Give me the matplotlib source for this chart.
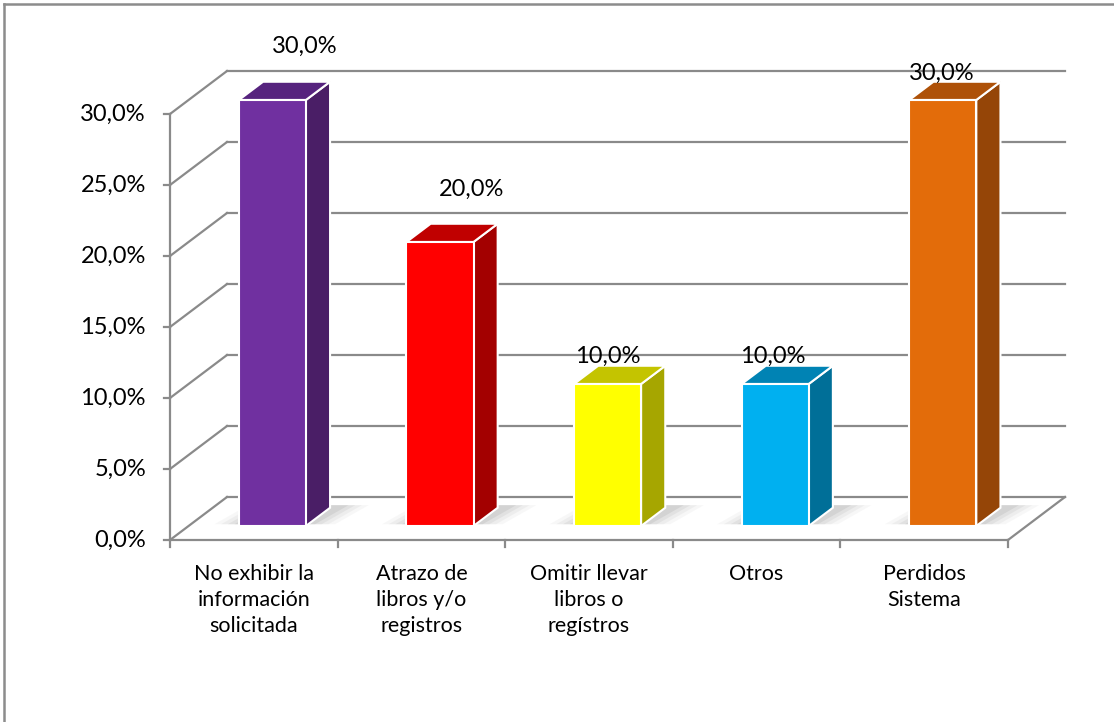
import numpy as np
import matplotlib.pyplot as plt
from matplotlib.patches import Polygon

# ========== Данные ==========
categories = ['No exhibir la\ninformación\nsolicitada',
              'Atrazo de\nlibros y/o\nregistros',
              'Omitir llevar\nlibros o\nregístros',
              'Otros',
              'Perdidos\nSistema']
values = [30.0, 20.0, 10.0, 10.0, 30.0]
y_ticks = [0, 5, 10, 15, 20, 25, 30]

# ========== Стиль ==========
front_colors = ['#7030A0', '#FF0000', '#FFFF00', '#00B0F0', '#E36C0A']
side_colors = ['#4A1E66', '#A30000', '#A6A600', '#006F98', '#954507']
top_colors = ['#56237E', '#C00000', '#C4C400', '#0083B4', '#AE5108']
label_offsets = [(32, 54), (32, 53), (0, 28), (-2, 28), (-1, 27)]  # пиксели
grid_col = '#8a8a8a'

plt.rcParams['font.family'] = ['Lato', 'DejaVu Sans']

W, H = 1114, 722
fig = plt.figure(figsize=(W / 100, H / 100), dpi=100)
ax = fig.add_axes([0, 0, 1, 1])

# масштаб: 1 категория = 167.6 px, 1% = 14.2 px
px_x, px_y = 167.6, 14.2
x0_px, y0_px = 170, H - 540
ax.set_xlim(-x0_px / px_x, (W - x0_px) / px_x)
ax.set_ylim(-y0_px / px_y, (H - y0_px) / px_y)
ax.axis('off')

# вектор глубины (полная глубина)
DX, DY = 57 / px_x, 43 / px_y


def P(x, y, d):
    return (x + d * DX, y + d * DY)


n = len(categories)
ymax = y_ticks[-1]

# рамка (только слева и сверху)
xl_lim, xr_lim = ax.get_xlim()
yb_lim, yt_lim = ax.get_ylim()
ax.plot([xl_lim + 4 / px_x] * 2, [yb_lim, yt_lim - 4 / px_y],
        color='#8c8c8c', lw=1.8, zorder=1)
ax.plot([xl_lim + 4 / px_x, xr_lim], [yt_lim - 4 / px_y] * 2,
        color='#8c8c8c', lw=1.8, zorder=1)

# задняя стенка и боковые диагонали
for t in y_ticks:
    a, b = P(0, t, 1), P(n, t, 1)
    ax.plot([a[0], b[0]], [a[1], b[1]], color=grid_col, lw=1.6, zorder=2)
    c = P(0, t, 0)
    ax.plot([c[0], a[0]], [c[1], a[1]], color=grid_col, lw=1.6, zorder=2)

# пол
f0, f1 = P(0, 0, 0), P(n, 0, 0)
ax.plot([f0[0], f1[0]], [f0[1], f1[1]], color=grid_col, lw=1.6, zorder=2)
r0, r1 = P(n, 0, 0), P(n, 0, 1)
ax.plot([r0[0], r1[0]], [r0[1], r1[1]], color=grid_col, lw=1.6, zorder=2)

# ось Y
ax.plot([0, 0], [0, ymax], color=grid_col, lw=1.6, zorder=2)
for t in y_ticks:
    ax.plot([-6 / px_x, 0], [t, t], color=grid_col, lw=1.6, zorder=2)
    ax.text(-24 / px_x, t, f'{t:.1f}%'.replace('.', ','), ha='right', va='center',
            fontsize=17, color='black')

# ось X: засечки и подписи
for i in range(n + 1):
    ax.plot([i, i], [0, -7 / px_y], color=grid_col, lw=1.6, zorder=2)
for i, cat in enumerate(categories):
    ax.text(i + 0.5, -24 / px_y, cat, ha='center', va='top', fontsize=15.5,
            linespacing=1.36, color='black')

# столбцы
hw = 0.2
d0, d1 = 0.326, 0.75
for i, v in enumerate(values):
    xl, xr = i + 0.5 - hw, i + 0.5 + hw
    # тень на полу
    for k, a in enumerate([0.05, 0.07, 0.09, 0.12]):
        e = (4 - k) * 0.04
        sh = [P(xl - e, 0, d0 + 0.04), P(xr + e, 0, d0 + 0.04),
              P(xr + e + 0.05, 0, d1 + 0.06), P(xl - e + 0.05, 0, d1 + 0.06)]
        ax.add_patch(Polygon(sh, closed=True, facecolor='#707070', edgecolor='none',
                             alpha=a, zorder=3))
    side = [P(xr, 0, d0), P(xr, 0, d1), P(xr, v, d1), P(xr, v, d0)]
    top = [P(xl, v, d0), P(xr, v, d0), P(xr, v, d1), P(xl, v, d1)]
    front = [P(xl, 0, d0), P(xr, 0, d0), P(xr, v, d0), P(xl, v, d0)]
    ax.add_patch(Polygon(side, closed=True, facecolor=side_colors[i], edgecolor='white',
                         lw=1.5, zorder=4))
    ax.add_patch(Polygon(top, closed=True, facecolor=top_colors[i], edgecolor='white',
                         lw=1.5, zorder=4))
    ax.add_patch(Polygon(front, closed=True, facecolor=front_colors[i], edgecolor='white',
                         lw=1.5, zorder=5))
    fx, fy = P(i + 0.5, v, d0)
    ox, oy = label_offsets[i]
    ax.annotate(f'{v:.1f}%'.replace('.', ','), xy=(fx, fy), xytext=(ox, oy),
                textcoords='offset pixels', ha='center', va='center', fontsize=17,
                color='black', zorder=6)

plt.savefig('out.png', dpi=100)
